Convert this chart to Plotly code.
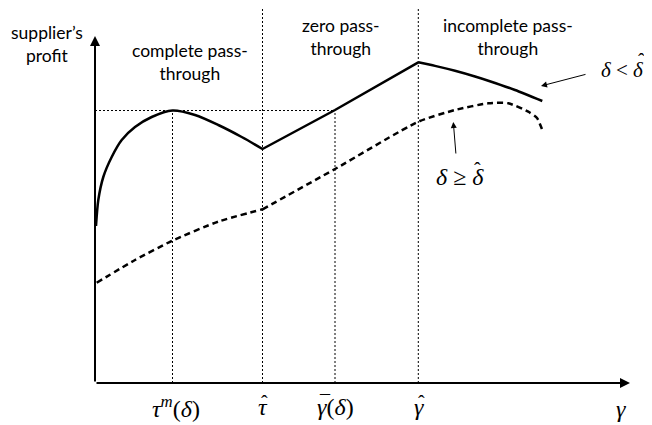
import plotly.graph_objects as go

# ---- data (x: gamma, y: supplier's profit, arbitrary units) ----
tick_x = [77.5, 167.5, 240, 323.3]          # tau^m(delta), tau_hat, gamma_bar(delta), gamma_hat
tick_labels = ["<i>τ</i><sup><i>m</i></sup>(<i>δ</i>)", "<i>τ</i>", "<i>γ</i>(<i>δ</i>)", "<i>γ</i>"]
tick_label_x = [81, 167.6, 240, 324]
peak_profit = 272.5

# delta < delta_hat (solid)
complete_x = [1, 3.3, 8.3, 16.7, 26.7, 40, 56.7, 77.5, 100, 123.3, 146.7, 167.5]
complete_y = [157, 183, 206, 226, 243, 256, 266, 272.5, 268, 258, 246, 234]
zero_x = [167.5, 240, 323.3]
zero_y = [234, 273, 320.7]
incomplete_x = [323.3, 340, 360, 380, 393.3, 420, 447.3]
incomplete_y = [320.7, 317.1, 312.2, 306.5, 302.3, 293, 282]

# delta >= delta_hat (dashed)
dashed1_x = [1.7, 40, 77.3, 123, 167.5]
dashed1_y = [100.3, 123, 142.3, 161.3, 173.7]
dashed2_x = [167.5, 240, 323.3, 360, 393.3, 413.3, 433.3, 442, 447.3]
dashed2_y = [173.7, 214, 261.3, 273, 279.7, 279.7, 271.3, 265, 253]

regime_labels = ["complete pass-<br>through", "zero pass-<br>through", "incomplete pass-<br>through"]
regime_x = [95, 246, 413]
regime_y = [321.5, 346, 346.5]

X_MAX, Y_MAX = 535, 347

fig = go.Figure()

def add_line(x, y, dash="solid", width=2.5, shape="linear", smoothing=1.0):
    fig.add_trace(go.Scatter(x=x, y=y, mode="lines",
                             line=dict(color="black", width=width, dash=dash,
                                       shape=shape, smoothing=smoothing),
                             hoverinfo="skip"))

dot = "2px,2px"
# dotted guide lines
add_line([0, tick_x[2]], [peak_profit, peak_profit], dash=dot, width=1)
add_line([tick_x[0], tick_x[0]], [0, peak_profit], dash=dot, width=1)
add_line([tick_x[2], tick_x[2]], [0, peak_profit], dash=dot, width=1)
add_line([tick_x[1], tick_x[1]], [0, 383], dash=dot, width=1)
add_line([tick_x[3], tick_x[3]], [0, 383], dash=dot, width=1)

# curves
add_line(complete_x, complete_y, shape="spline", smoothing=0.8)
add_line(zero_x, zero_y)
add_line(incomplete_x, incomplete_y, shape="spline", smoothing=0.6)
dash = "6px,4px"
add_line(dashed1_x, dashed1_y, dash=dash, shape="spline", smoothing=0.6)
add_line(dashed2_x, dashed2_y, dash=dash, shape="spline", smoothing=0.6)

ann = []
def arrow(x, y, ax, ay, width=1, size=1.2):
    ann.append(dict(x=x, y=y, ax=ax, ay=ay, xref="x", yref="y", axref="x", ayref="y",
                    text="", showarrow=True, arrowhead=2, arrowsize=size, arrowwidth=width,
                    arrowcolor="black", standoff=0))

# axes with arrows
arrow(0, Y_MAX, 0, 0, width=2, size=1)
arrow(X_MAX, 0, 0, 0, width=2, size=1)
# pointer arrows
arrow(446, 297, 492, 309)
arrow(358.3, 261, 361, 228)

sans = dict(family="Lato", size=17.5, color="black")
serif = dict(family="Liberation Serif", size=24, color="black")
serif_s = dict(family="Liberation Serif", size=21, color="black")
accent = dict(family="Liberation Serif", size=20, color="black")

def text(x, y, t, font, xanchor="center"):
    ann.append(dict(x=x, y=y, text=t, showarrow=False, xref="x", yref="y",
                    font=font, xanchor=xanchor, yanchor="middle"))

text(-48, 339, "supplier’s<br>profit", sans)
for t, xx, yy in zip(regime_labels, regime_x, regime_y):
    text(xx, yy, t, sans)

for t, xx in zip(tick_labels, tick_label_x):
    text(xx, -24, t, serif)
text(526, -26, "<i>γ</i>", serif)

# accents (hats / bar) placed above the letters
text(169.5, -20, "ˆ", accent)        # tau hat
text(326, -20, "ˆ", accent)          # gamma hat
text(230, -20, "¯", accent)          # gamma bar

text(551, 313, "<i>δ</i> < <i>δ</i>", serif_s, xanchor="right")
text(546, 322, "ˆ", accent)
text(365, 206, "<i>δ</i> ≥ <i>δ</i>", serif)
text(382.5, 213, "ˆ", accent)

fig.update_layout(
    width=644, height=417,
    margin=dict(l=0, r=0, t=0, b=0),
    paper_bgcolor="white", plot_bgcolor="white",
    showlegend=False,
    xaxis=dict(range=[-87, 557], visible=False, fixedrange=True),
    yaxis=dict(range=[-42, 375], visible=False, fixedrange=True),
    annotations=ann,
)

fig.write_html("out.html")
